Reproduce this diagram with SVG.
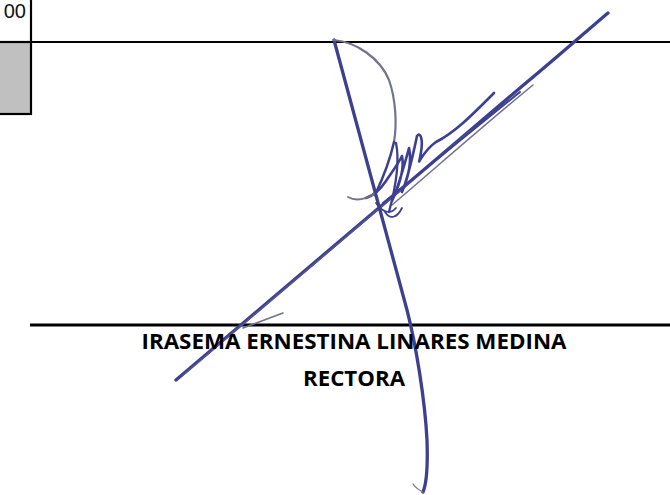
<svg xmlns="http://www.w3.org/2000/svg" width="670" height="495" viewBox="0 0 670 495">
  <style>
    .rule { stroke: #000; fill: none; }
    .ink { stroke: #3d3f8f; fill: none; stroke-linecap: round; stroke-linejoin: round; }
    .ink2 { stroke: #55578f; fill: none; stroke-linecap: round; stroke-linejoin: round; }
    .inkgray { stroke: #72738f; fill: none; stroke-linecap: round; stroke-linejoin: round; }
    .name { font-family: "Open Sans", "Liberation Sans", Arial, sans-serif; font-weight: bold; font-size: 21px; fill: #000; }
  </style>
  <rect x="0" y="0" width="670" height="495" fill="#fff"/>

  <g id="table-fragment">
    <text x="26" y="18" font-family="Liberation Sans, Arial, sans-serif" font-size="20" text-anchor="end" fill="#111">00</text>
    <rect x="-2" y="42" width="33" height="72" fill="#c0c0c0" stroke="#000" stroke-width="2.2"/>
    <line class="rule" x1="31" y1="0" x2="31" y2="42" stroke-width="2.2"/>
    <line class="rule" x1="0" y1="42" x2="670" y2="42" stroke-width="2.2"/>
  </g>

  <g id="signature-line">
    <line class="rule" x1="30" y1="325" x2="670" y2="325" stroke-width="2.8"/>
  </g>

  <g id="signature">
    <!-- long diagonal stroke -->
    <path class="ink" d="M176,380 C260,309 400,190 520,88 C560,55 590,28 608,13" stroke-width="3.3"/>
    <path class="ink2" d="M182,376 C270,302 380,208 470,131" stroke-width="1.5"/>
    <!-- lower parallel lines -->
    <path class="inkgray" d="M392,205 C432,171 490,120 533,85" stroke-width="1.6"/>
    <path class="ink" d="M383,203 C420,173 470,132 520,92" stroke-width="2"/>
    <!-- vertical stroke -->
    <path class="ink" d="M334,40 L407,310 C416,345 425,400 427,440 C428,470 426,485 423,492" stroke-width="3.3"/>
    <path class="inkgray" d="M423,492 C419,490 415,487 413,484" stroke-width="1.3"/>
    <!-- top loop arc -->
    <path class="inkgray" d="M334,40 C356,42 380,58 389,80 C396,100 397,125 394,142" stroke-width="2.2"/>
    <!-- knot letters -->
    <path class="ink" d="M394,142 C390,160 383,178 375,195" stroke-width="2.5"/>
    <path class="ink" d="M396,143 C400,162 396,186 389,212" stroke-width="2.3"/>
    <path class="ink" d="M366,198 C372,196 380,190 386,181 C392,172 398,164 402,156 C405,170 399,186 392,201 C399,185 405,163 409,148 C412,162 408,178 402,192 C409,175 414,150 417,136 C421,131 423,141 421,152 C420,160 418,164 420,160 C425,152 430,146 436,142 C456,132 475,112 494,93" stroke-width="2.6"/>
    <path class="ink" d="M376,203 C382,212 390,215 396,208 M385,212 C390,220 397,218 402,208" stroke-width="1.8"/>
    <path class="inkgray" d="M348,197 C355,201 364,200 374,194" stroke-width="2"/>
    <path class="inkgray" d="M243,328 L283,313" stroke-width="1.6"/>
  </g>

  <g id="name-block">
    <text class="name" x="354" y="349" text-anchor="middle" textLength="425" lengthAdjust="spacingAndGlyphs">IRASEMA ERNESTINA LINARES MEDINA</text>
    <text class="name" x="354" y="386" text-anchor="middle" textLength="102" lengthAdjust="spacingAndGlyphs">RECTORA</text>
  </g>
</svg>
